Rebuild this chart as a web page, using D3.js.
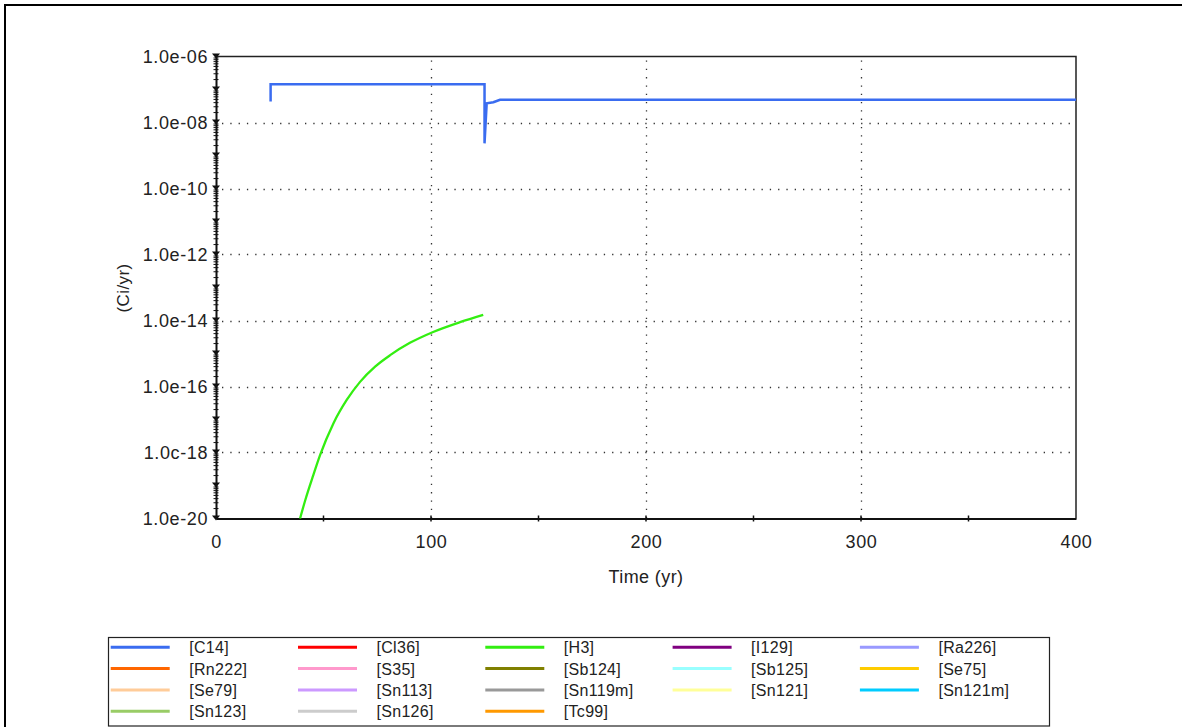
<!DOCTYPE html>
<html>
<head>
<meta charset="utf-8">
<script src="https://cdn.jsdelivr.net/npm/d3@7"></script>
<style>
  body { margin: 0; background: #fff; }
  text { font-family: Arial, "Liberation Sans", sans-serif; fill: #222; }
</style>
</head>
<body>
<div id="chart"></div>
<script>
// release rates
var c14Time = [25.4, 25.4, 124.9, 124.9, 125.9, 129, 132.1, 400];
var c14Rate = [4.3e-8, 1.44e-7, 1.44e-7, 2.34e-9, 3.8e-8, 4.1e-8, 4.9e-8, 4.9e-8];

var h3Time = [39.1, 41.4, 45.3, 48.4, 54.6, 60.8, 67.0, 74, 81, 90.2, 101, 113.5, 124.3];
var h3Rate = [1e-20, 3.4e-20, 2.1e-19, 8.3e-19, 7.6e-18, 3.9e-17, 1.38e-16, 4.0e-16, 8.9e-16, 2.1e-15, 4.5e-15, 8.9e-15, 1.48e-14];

var legendNames = ["[C14]", "[Cl36]", "[H3]", "[I129]", "[Ra226]",
                   "[Rn222]", "[S35]", "[Sb124]", "[Sb125]", "[Se75]",
                   "[Se79]", "[Sn113]", "[Sn119m]", "[Sn121]", "[Sn121m]",
                   "[Sn123]", "[Sn126]", "[Tc99]"];
var legendColors = ["#3a6cf0", "#ff0000", "#33ee11", "#800080", "#9999ff",
                    "#ff6600", "#ff99cc", "#808000", "#99ffff", "#ffcc00",
                    "#ffcc99", "#cc99ff", "#999999", "#ffff99", "#00ccff",
                    "#99cc66", "#cccccc", "#ff9900"];

var xTicks = [0, 100, 200, 300, 400];
var xMinorTicks = [50, 150, 250, 350];
var yTicks = [1e-6, 1e-8, 1e-10, 1e-12, 1e-14, 1e-16, 1e-18, 1e-20];
var yTickLabels = ["1.0e-06", "1.0e-08", "1.0e-10", "1.0e-12", "1.0e-14", "1.0e-16", "1.0c-18", "1.0e-20"];

var W = 1182, H = 727;
var plot = {left: 216, right: 1076, top: 56.5, bottom: 518.5};

var svg = d3.select("#chart").append("svg")
    .attr("width", W)
    .attr("height", H);

svg.append("rect").attr("width", W).attr("height", H).attr("fill", "#fff");

// outer frame (only top and left show)
svg.append("path")
    .attr("d", "M5,727 L5,5 L1182,5")
    .attr("fill", "none")
    .attr("stroke", "#000")
    .attr("stroke-width", 2);

var x = d3.scaleLinear().domain([0, 400]).range([plot.left, plot.right]);
var y = d3.scaleLog().domain([1e-20, 1e-6]).range([plot.bottom, plot.top]);

var g = svg.append("g");

// dotted grid
g.selectAll(".vgrid")
    .data(xTicks.slice(1, 4))
    .enter().append("line")
    .attr("x1", function(d) { return Math.round(x(d)) + 0.5; })
    .attr("x2", function(d) { return Math.round(x(d)) + 0.5; })
    .attr("y1", plot.top + 4)
    .attr("y2", plot.bottom)
    .attr("stroke", "#333")
    .attr("stroke-width", 1.3)
    .attr("stroke-dasharray", "1.3,7");

g.selectAll(".hgrid")
    .data(yTicks.slice(1, 7))
    .enter().append("line")
    .attr("x1", plot.left + 6)
    .attr("x2", plot.right)
    .attr("y1", function(d) { return Math.round(y(d)) + 0.5; })
    .attr("y2", function(d) { return Math.round(y(d)) + 0.5; })
    .attr("stroke", "#333")
    .attr("stroke-width", 1.3)
    .attr("stroke-dasharray", "1.3,7");

// plot frame
g.append("path")
    .attr("d", "M" + plot.left + "," + plot.top + " L" + plot.right + "," + plot.top +
               " L" + plot.right + "," + plot.bottom)
    .attr("fill", "none")
    .attr("stroke", "#222")
    .attr("stroke-width", 1.5);

// x axis
var xAxis = d3.axisBottom(x)
    .tickValues(xTicks)
    .tickSize(0)
    .tickPadding(17)
    .tickFormat(d3.format("d"));

var xg = g.append("g")
    .attr("transform", "translate(0," + plot.bottom + ")")
    .call(xAxis);
xg.select(".domain").attr("stroke", "#111").attr("stroke-width", 1.8);
xg.selectAll("text")
    .style("font-size", "18px")
    .style("letter-spacing", "0.6px")
    .attr("fill", "#222");

var allXTicks = xTicks.concat(xMinorTicks).filter(function(d) { return d > 0 && d < 400; });
g.selectAll(".xtick")
    .data(allXTicks)
    .enter().append("line")
    .attr("x1", function(d) { return x(d); })
    .attr("x2", function(d) { return x(d); })
    .attr("y1", plot.bottom - 3)
    .attr("y2", plot.bottom + 3)
    .attr("stroke", "#111")
    .attr("stroke-width", 1.5);

// y axis
var yAxis = d3.axisLeft(y)
    .tickValues(yTicks)
    .tickSize(0)
    .tickPadding(8)
    .tickFormat(function(d, i) { return yTickLabels[i]; });

var yg = g.append("g")
    .attr("transform", "translate(" + plot.left + ",0)")
    .call(yAxis);
yg.select(".domain").attr("stroke", "#111").attr("stroke-width", 2);
yg.selectAll("text")
    .style("font-size", "18px")
    .style("letter-spacing", "0.6px")
    .attr("fill", "#222");

// log minor ticks and decade markers
var minor = [];
var decades = [];
for (var e = -20; e < -6; e++) {
  decades.push(Math.pow(10, e));
  for (var k = 2; k <= 9; k++) minor.push(k * Math.pow(10, e));
}
decades.push(1e-6);

g.selectAll(".ymin")
    .data(minor)
    .enter().append("line")
    .attr("x1", plot.left - 2.5)
    .attr("x2", plot.left + 2.5)
    .attr("y1", function(d) { return y(d); })
    .attr("y2", function(d) { return y(d); })
    .attr("stroke", "#111")
    .attr("stroke-width", 1);

g.selectAll(".ydec")
    .data(decades)
    .enter().append("path")
    .attr("d", function(d) {
      var yy = y(d);
      return "M" + (plot.left - 4) + "," + (yy - 3) + " L" + (plot.left + 4) + "," + (yy - 3) +
             " L" + plot.left + "," + (yy + 2) + " Z";
    })
    .attr("fill", "#111");

// axis titles
g.append("text")
    .attr("x", (plot.left + plot.right) / 2)
    .attr("y", 583)
    .attr("text-anchor", "middle")
    .style("font-size", "18px")
    .style("letter-spacing", "0.4px")
    .text("Time (yr)");

g.append("text")
    .attr("transform", "translate(129,288) rotate(-90)")
    .attr("text-anchor", "middle")
    .style("font-size", "17px")
    .style("letter-spacing", "0.4px")
    .text("(Ci/yr)");

// series
var line = d3.line()
    .x(function(d) { return x(d[0]); })
    .y(function(d) { return y(d[1]); });

var c14 = d3.zip(c14Time, c14Rate);
var h3 = d3.zip(h3Time, h3Rate);

g.append("path")
    .datum(c14)
    .attr("d", line)
    .attr("fill", "none")
    .attr("stroke", legendColors[0])
    .attr("stroke-width", 2.5);

g.append("path")
    .datum(h3)
    .attr("d", line.curve(d3.curveMonotoneX))
    .attr("fill", "none")
    .attr("stroke", legendColors[2])
    .attr("stroke-width", 2.3);

// legend
var legend = svg.append("g");
legend.append("rect")
    .attr("x", 108.5)
    .attr("y", 637.5)
    .attr("width", 941)
    .attr("height", 88.5)
    .attr("fill", "#fff")
    .attr("stroke", "#222")
    .attr("stroke-width", 1.2);

var colW = 187.3, rowH = 21.3;
var item = legend.selectAll(".item")
    .data(legendNames)
    .enter().append("g")
    .attr("transform", function(d, i) {
      return "translate(" + (110.7 + (i % 5) * colW) + "," + (647.3 + Math.floor(i / 5) * rowH) + ")";
    });

item.append("line")
    .attr("x1", 0)
    .attr("x2", 59)
    .attr("stroke", function(d, i) { return legendColors[i]; })
    .attr("stroke-width", 3);

item.append("text")
    .attr("x", 78.5)
    .attr("y", 6)
    .style("font-size", "16px")
    .style("letter-spacing", "0.3px")
    .text(function(d) { return d; });
</script>
</body>
</html>
